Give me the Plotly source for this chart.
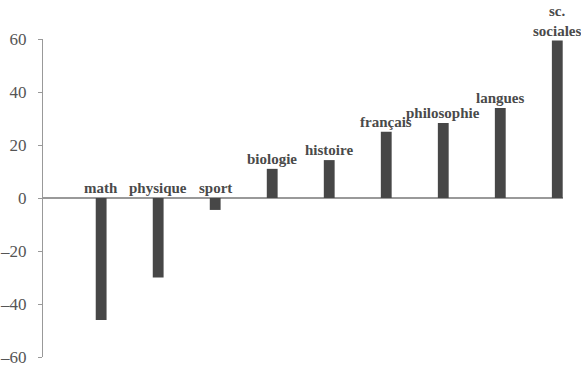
import plotly.graph_objects as go

categories = ["math", "physique", "sport", "biologie", "histoire", "français",
              "philosophie", "langues", "sc. sociales"]
label_text = ["math", "physique", "sport", "biologie", "histoire", "français",
              "philosophie", "langues", "sc.<br>sociales"]
values = [-46, -30, -4.5, 11, 14.3, 25, 28.3, 34, 59.4]
tick_vals = [-60, -40, -20, 0, 20, 40, 60]
tick_text = ["–60", "–40", "–20", "0", "20", "40", "60"]

xs = list(range(len(categories)))
SERIF = "Liberation Serif"

fig = go.Figure()
fig.add_trace(go.Bar(x=xs, y=values, width=0.19,
                     marker=dict(color="#474747", line=dict(width=0)),
                     hoverinfo="skip"))

for x, v, t in zip(xs, values, label_text):
    fig.add_annotation(x=x, y=max(v, 0), text="<b>" + t + "</b>", showarrow=False,
                       yanchor="bottom", xanchor="center", yshift=0,
                       font=dict(family=SERIF, size=15, color="#4a4a4a"))

fig.update_layout(
    width=581, height=367,
    margin=dict(l=43, r=18, t=39, b=10, autoexpand=False),
    paper_bgcolor="white", plot_bgcolor="white",
    showlegend=False,
    font=dict(family=SERIF),
    xaxis=dict(range=[-1.02, 8.1], showticklabels=False, showgrid=False,
               zeroline=False, showline=False, ticks="", automargin=False),
    yaxis=dict(range=[-60, 60], tickvals=tick_vals, ticktext=tick_text,
               showgrid=False, zeroline=True, zerolinecolor="#999999", zerolinewidth=1.5,
               showline=True, linecolor="#999999", linewidth=1,
               ticks="outside", ticklen=4, tickcolor="#999999",
               ticklabelstandoff=8, automargin=False,
               tickfont=dict(family=SERIF, size=17, color="#555555")),
)

fig.write_html("out.html", config={"displayModeBar": False},
               post_script="document.body.style.margin='0';document.body.style.padding='0';document.body.style.overflow='hidden';")
